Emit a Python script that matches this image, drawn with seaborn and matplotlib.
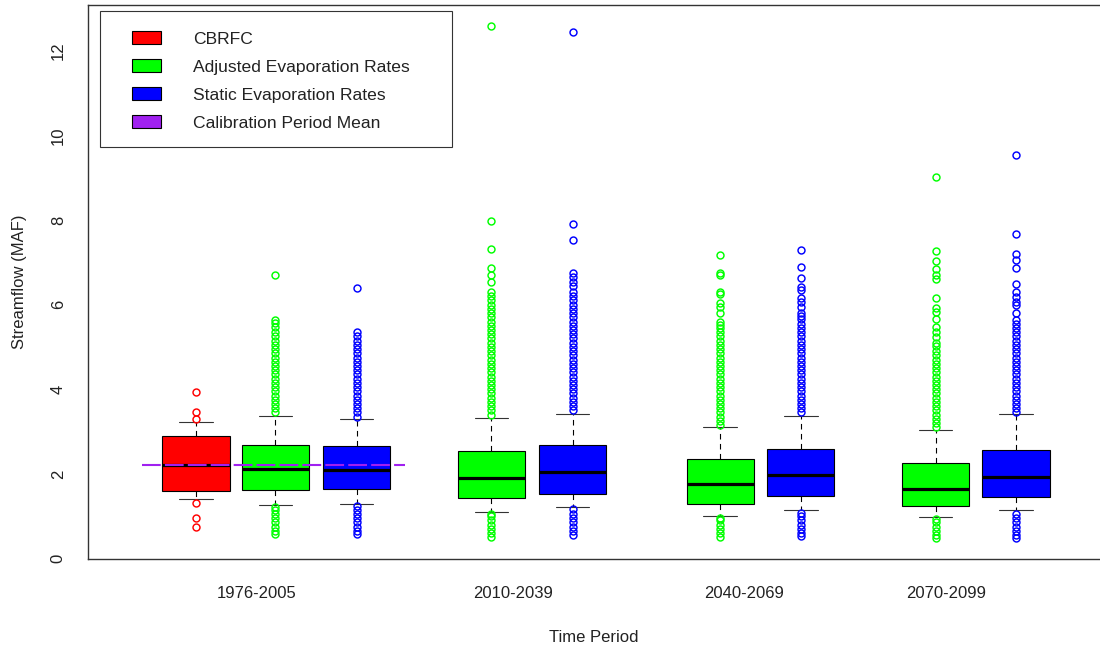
import numpy as np
import pandas as pd
import matplotlib
matplotlib.use('Agg')
import matplotlib.pyplot as plt
from matplotlib.patches import Patch, Rectangle
import seaborn as sns

# Time periods and the series shown in each box
periods = ['1976-2005', '2010-2039', '2040-2069', '2070-2099']
legend_labels = ['CBRFC', 'Adjusted Evaporation Rates', 'Static Evaporation Rates',
                 'Calibration Period Mean']
box_series = ['CBRFC', 'Adjusted', 'Static', 'Adjusted', 'Static',
              'Adjusted', 'Static', 'Adjusted', 'Static']

# Box statistics (MAF)
whisker_low = [1.41, 1.26, 1.29, 1.10, 1.22, 1.00, 1.14, 0.98, 1.14]
q1 = [1.59, 1.62, 1.65, 1.43, 1.53, 1.29, 1.48, 1.24, 1.46]
median = [2.21, 2.11, 2.10, 1.91, 2.04, 1.75, 1.97, 1.65, 1.93]
q3 = [2.90, 2.67, 2.65, 2.55, 2.68, 2.36, 2.59, 2.25, 2.57]
whisker_high = [3.22, 3.37, 3.30, 3.32, 3.42, 3.11, 3.37, 3.03, 3.41]

# Outliers below / above the whiskers
low_outliers = [
    [0.74, 0.96, 1.32],
    [0.57, 0.65, 0.75, 0.85, 0.95, 1.05, 1.15, 1.21],
    [0.57, 0.65, 0.75, 0.85, 0.95, 1.05, 1.15, 1.24],
    [0.51, 0.60, 0.70, 0.80, 0.90, 1.00, 1.05],
    [0.55, 0.65, 0.75, 0.85, 0.95, 1.05, 1.17],
    [0.51, 0.60, 0.70, 0.80, 0.90, 0.95],
    [0.54, 0.60, 0.70, 0.80, 0.90, 1.00, 1.08],
    [0.48, 0.55, 0.65, 0.75, 0.85, 0.93],
    [0.49, 0.55, 0.65, 0.75, 0.85, 0.95, 1.05],
]
high_outliers = [
    [3.30, 3.46, 3.94],
    [3.45, 3.55, 3.65, 3.75, 3.85, 3.95, 4.05, 4.15, 4.25, 4.35, 4.45, 4.55, 4.65,
     4.75, 4.85, 4.95, 5.05, 5.15, 5.25, 5.35, 5.47, 5.56, 5.64, 6.69],
    [3.35, 3.45, 3.55, 3.65, 3.75, 3.85, 3.95, 4.05, 4.15, 4.25, 4.35, 4.45, 4.55,
     4.65, 4.75, 4.85, 4.95, 5.05, 5.15, 5.25, 5.36, 6.39],
    [3.40, 3.50, 3.60, 3.70, 3.80, 3.90, 4.00, 4.10, 4.20, 4.30, 4.40, 4.50, 4.60,
     4.70, 4.80, 4.90, 5.00, 5.10, 5.20, 5.30, 5.40, 5.50, 5.60, 5.70, 5.80, 5.90,
     6.00, 6.10, 6.20, 6.30, 6.54, 6.70, 6.87, 7.32, 7.99, 12.60],
    [3.50, 3.60, 3.70, 3.80, 3.90, 4.00, 4.10, 4.20, 4.30, 4.40, 4.50, 4.60, 4.70,
     4.80, 4.90, 5.00, 5.10, 5.20, 5.30, 5.40, 5.50, 5.60, 5.70, 5.80, 5.90, 6.00,
     6.10, 6.20, 6.30, 6.43, 6.54, 6.66, 6.76, 7.54, 7.91, 12.44],
    [3.15, 3.25, 3.35, 3.45, 3.55, 3.65, 3.75, 3.85, 3.95, 4.05, 4.15, 4.25, 4.35,
     4.45, 4.55, 4.65, 4.75, 4.85, 4.95, 5.05, 5.15, 5.25, 5.35, 5.45, 5.52, 5.60,
     5.80, 5.95, 6.03, 6.25, 6.31, 6.70, 6.74, 7.17],
    [3.45, 3.55, 3.65, 3.75, 3.85, 3.95, 4.05, 4.15, 4.25, 4.35, 4.45, 4.55, 4.65,
     4.75, 4.85, 4.95, 5.05, 5.15, 5.25, 5.35, 5.45, 5.55, 5.65, 5.72, 5.80, 5.95,
     6.07, 6.15, 6.35, 6.41, 6.62, 6.90, 7.29],
    [3.10, 3.20, 3.30, 3.40, 3.50, 3.60, 3.70, 3.80, 3.90, 4.00, 4.10, 4.20, 4.30,
     4.40, 4.50, 4.60, 4.70, 4.80, 4.90, 5.02, 5.09, 5.24, 5.36, 5.48, 5.66, 5.83,
     5.91, 6.15, 6.61, 6.69, 6.84, 7.03, 7.27, 9.03],
    [3.45, 3.55, 3.65, 3.75, 3.85, 3.95, 4.05, 4.15, 4.25, 4.35, 4.45, 4.55, 4.65,
     4.75, 4.85, 4.95, 5.05, 5.15, 5.25, 5.35, 5.45, 5.55, 5.64, 5.80, 5.99, 6.07,
     6.19, 6.31, 6.49, 6.87, 7.06, 7.20, 7.67, 9.54],
]
calibration_mean = 2.21
y_ticks = [0, 2, 4, 6, 8, 10, 12]

# Styling / layout
colors = {'CBRFC': '#FF0000', 'Adjusted': '#00FF00', 'Static': '#0000FF'}
purple = '#A020F0'
box_x = [1.0, 1.99, 3.0, 4.68, 5.69, 7.53, 8.53, 10.21, 11.21]
label_x = [1.756, 4.95, 7.83, 10.34]
text_color = '#222222'

sns.set_theme(style='white')
plt.rcParams['font.family'] = ['Liberation Sans', 'DejaVu Sans']
plt.rcParams['font.size'] = 12

fig = plt.figure(figsize=(11, 6.49), dpi=100)
ax = fig.add_axes([0.08, 0.1387, 0.92, 0.8536])

n_fill = 1000
for i, series in enumerate(box_series):
    lo = low_outliers[i]
    hi = high_outliers[i]
    vals = (lo + [whisker_low[i]] + [q1[i]] * n_fill + [median[i]] * n_fill
            + [q3[i]] * n_fill + [whisker_high[i]] + hi)
    n = len(vals)
    # whiskers as percentiles so they land on the read-off whisker ends
    p_lo = 100 * (len(lo) - 0.5) / (n - 1) if lo else 0
    p_hi = 100 * (n - 1 - len(hi) + 0.5) / (n - 1) if hi else 100
    df = pd.DataFrame({'x': box_x[i], 'y': vals})
    c = colors[series]
    sns.boxplot(data=df, x='x', y='y', orient='x', native_scale=True,
                width=0.84, color=c, saturation=1, linecolor='black',
                linewidth=0.8, whis=(p_lo, p_hi), capwidths=0.42,
                flierprops=dict(marker='o', markerfacecolor='none',
                                markeredgecolor=c, markersize=5.0,
                                markeredgewidth=1.05),
                medianprops=dict(color='black', linewidth=2.3),
                whiskerprops=dict(color='black', linewidth=0.8,
                                  linestyle=(0, (5, 4))),
                capprops=dict(color='#333333', linewidth=0.8),
                ax=ax)

# calibration period mean over the historical group
ax.hlines(calibration_mean, 0.323, 3.606, colors=purple, linewidth=1.5,
          linestyles=[(0, (9, 2))], zorder=6)

ax.set_xlim(-0.345, 12.258)
ax.set_ylim(-0.014, 13.086)
ax.set_xticks(label_x)
ax.set_xticklabels(periods)
ax.set_yticks(y_ticks)
ax.set_yticklabels([str(t) for t in y_ticks])
ax.tick_params(axis='both', length=0, labelsize=12, colors=text_color)
ax.tick_params(axis='x', pad=19.2)
ax.tick_params(axis='y', pad=16)
plt.setp(ax.get_yticklabels(), rotation=90, va='center', ha='right')

ax.set_xlabel('Time Period', fontsize=12, color=text_color)
ax.set_ylabel('Streamflow (MAF)', fontsize=12, color=text_color)
ax.xaxis.set_label_coords(0.5, -0.128)
ax.yaxis.set_label_coords(-0.0598, 0.5)

for side in ['left', 'bottom', 'top']:
    ax.spines[side].set_color('#333333')
    ax.spines[side].set_linewidth(1.0)
ax.spines['right'].set_visible(False)

# legend
handles = [Patch(facecolor=colors['CBRFC'], edgecolor='black', linewidth=0.8),
           Patch(facecolor=colors['Adjusted'], edgecolor='black', linewidth=0.8),
           Patch(facecolor=colors['Static'], edgecolor='black', linewidth=0.8),
           Patch(facecolor=purple, edgecolor='black', linewidth=0.8)]
fig.legend(handles, legend_labels, loc='upper left',
           bbox_to_anchor=(132.3 / 1100, 1 - 31.5 / 649), frameon=False,
           borderpad=0, borderaxespad=0, handlelength=1.62, handleheight=0.72,
           handletextpad=1.84, labelspacing=0.72, fontsize=12.6,
           labelcolor=text_color)
fig.add_artist(Rectangle((100 / 1100, 1 - 146.7 / 649), 351.7 / 1100, 135.7 / 649,
                         transform=fig.transFigure, fill=False,
                         edgecolor='#333333', linewidth=0.8))

fig.savefig('out.png', dpi=100)
